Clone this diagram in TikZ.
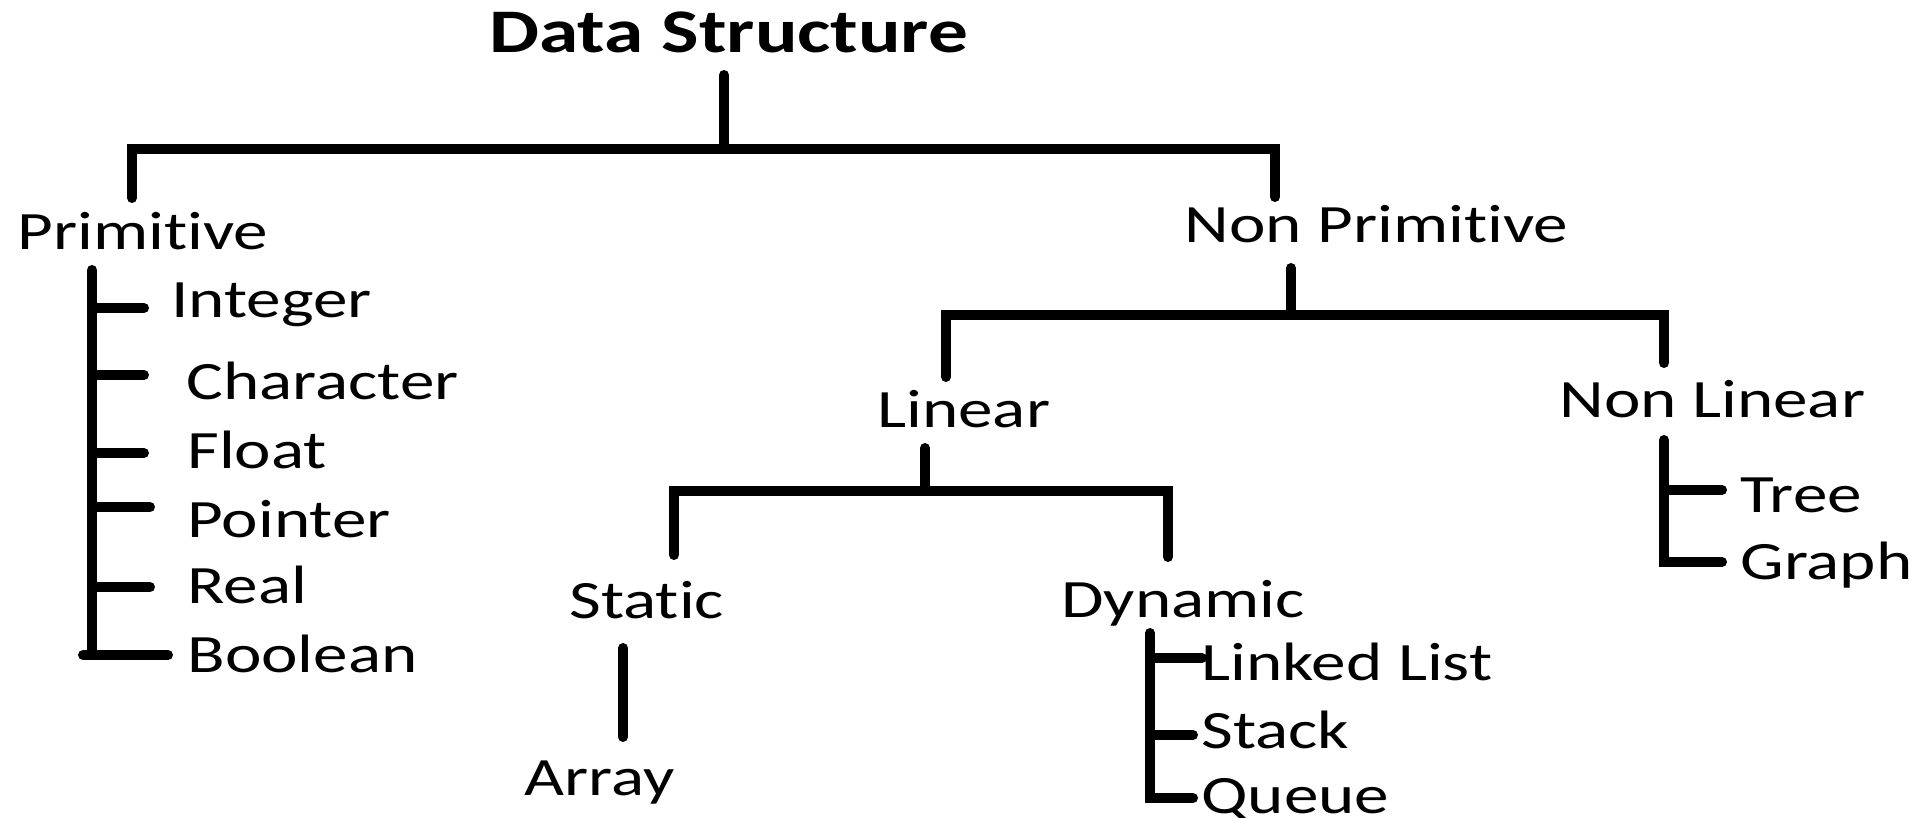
\documentclass[tikz,border=0pt]{standalone}
\usepackage{fontspec}
\setmainfont{Carlito}[FakeStretch=1.28,Ligatures=NoCommon]
\begin{document}
\begin{tikzpicture}[x=0.5pt,y=-0.5pt,
  lbl/.style={anchor=base west,inner sep=0pt,font=\fontsize{27pt}{30pt}\selectfont},
  ttl/.style={anchor=base west,inner sep=0pt,font=\fontsize{31pt}{34pt}\selectfont\bfseries},
  conn/.style={line width=5pt,line cap=round,line join=miter}]
\useasboundingbox[fill=white] (0,0) rectangle (1918,818);
% labels
\node[ttl] (ds) at (489,53) {Data Structure};
\node[lbl] (prim) at (17,250) {Primitive};
\node[lbl] (int) at (171,318) {Integer};
\node[lbl] (chr) at (186,400) {Character};
\node[lbl] (flt) at (187,468) {Float};
\node[lbl] (ptr) at (187,537) {Pointer};
\node[lbl] (real) at (187,603) {Real};
\node[lbl] (bool) at (187,672) {Boolean};
\node[lbl] (np) at (1184,243) {Non Primitive};
\node[lbl] (lin) at (877,428) {Linear};
\node[lbl] (nl) at (1559,417) {Non Linear};
\node[lbl] (stat) at (569,618) {Static};
\node[lbl] (arr) at (524,795) {Array};
\node[lbl] (dyn) at (1061,617) {Dynamic};
\node[lbl] (ll) at (1201,680) {Linked List};
\node[lbl] (stk) at (1201,748) {Stack};
\node[lbl] (que) at (1201,813) {Queue};
\node[lbl] (tree) at (1740,512) {Tree};
\node[lbl] (graph) at (1740,579) {Graph};
% junction coordinates
\coordinate (dsT) at (724,75);
\coordinate (dsB) at (724,149);
\coordinate (primT) at (132,198);
\coordinate (npT) at (1275,197);
\coordinate (primS) at (92,270);
\coordinate (primE) at (92,655);
\coordinate (boolL) at (83,655);
\coordinate (boolR) at (168,655);
\coordinate (intJ) at (92,308);
\coordinate (chrJ) at (92,375);
\coordinate (fltJ) at (92,453);
\coordinate (ptrJ) at (92,507);
\coordinate (realJ) at (92,587);
\coordinate (npS) at (1291,268);
\coordinate (npB) at (1291,315);
\coordinate (linT) at (946,377);
\coordinate (nlT) at (1664,363);
\coordinate (nlS) at (1664,440);
\coordinate (nlE) at (1664,562);
\coordinate (treeJ) at (1664,490);
\coordinate (linS) at (925,448);
\coordinate (linB) at (925,491);
\coordinate (statT) at (674,555);
\coordinate (dynT) at (1168,557);
\coordinate (statS) at (623,648);
\coordinate (arrT) at (623,737);
\coordinate (dynS) at (1150,633);
\coordinate (dynE) at (1150,798);
\coordinate (llJ) at (1150,658);
\coordinate (stkJ) at (1150,735);
% connectors
\draw[conn] (dsT) -- (dsB);
\draw[conn] (primT) |- (dsB) -| (npT);
\draw[conn] (primS) -- (primE);
\draw[conn] (boolL) -- (boolR);
\draw[conn] (intJ) -- (144,308);
\draw[conn] (chrJ) -- (144,375);
\draw[conn] (fltJ) -- (144,453);
\draw[conn] (ptrJ) -- (150,507);
\draw[conn] (realJ) -- (150,587);
\draw[conn] (npS) -- (npB);
\draw[conn] (linT) |- (npB) -| (nlT);
\draw[conn] (nlS) -- (nlE) -- (1722,562);
\draw[conn] (treeJ) -- (1722,490);
\draw[conn] (linS) -- (linB);
\draw[conn] (statT) |- (linB) -| (dynT);
\draw[conn] (statS) -- (arrT);
\draw[conn] (dynS) -- (dynE) -- (1193,798);
\draw[conn] (llJ) -- (1202,658);
\draw[conn] (stkJ) -- (1193,735);
\end{tikzpicture}
\end{document}
